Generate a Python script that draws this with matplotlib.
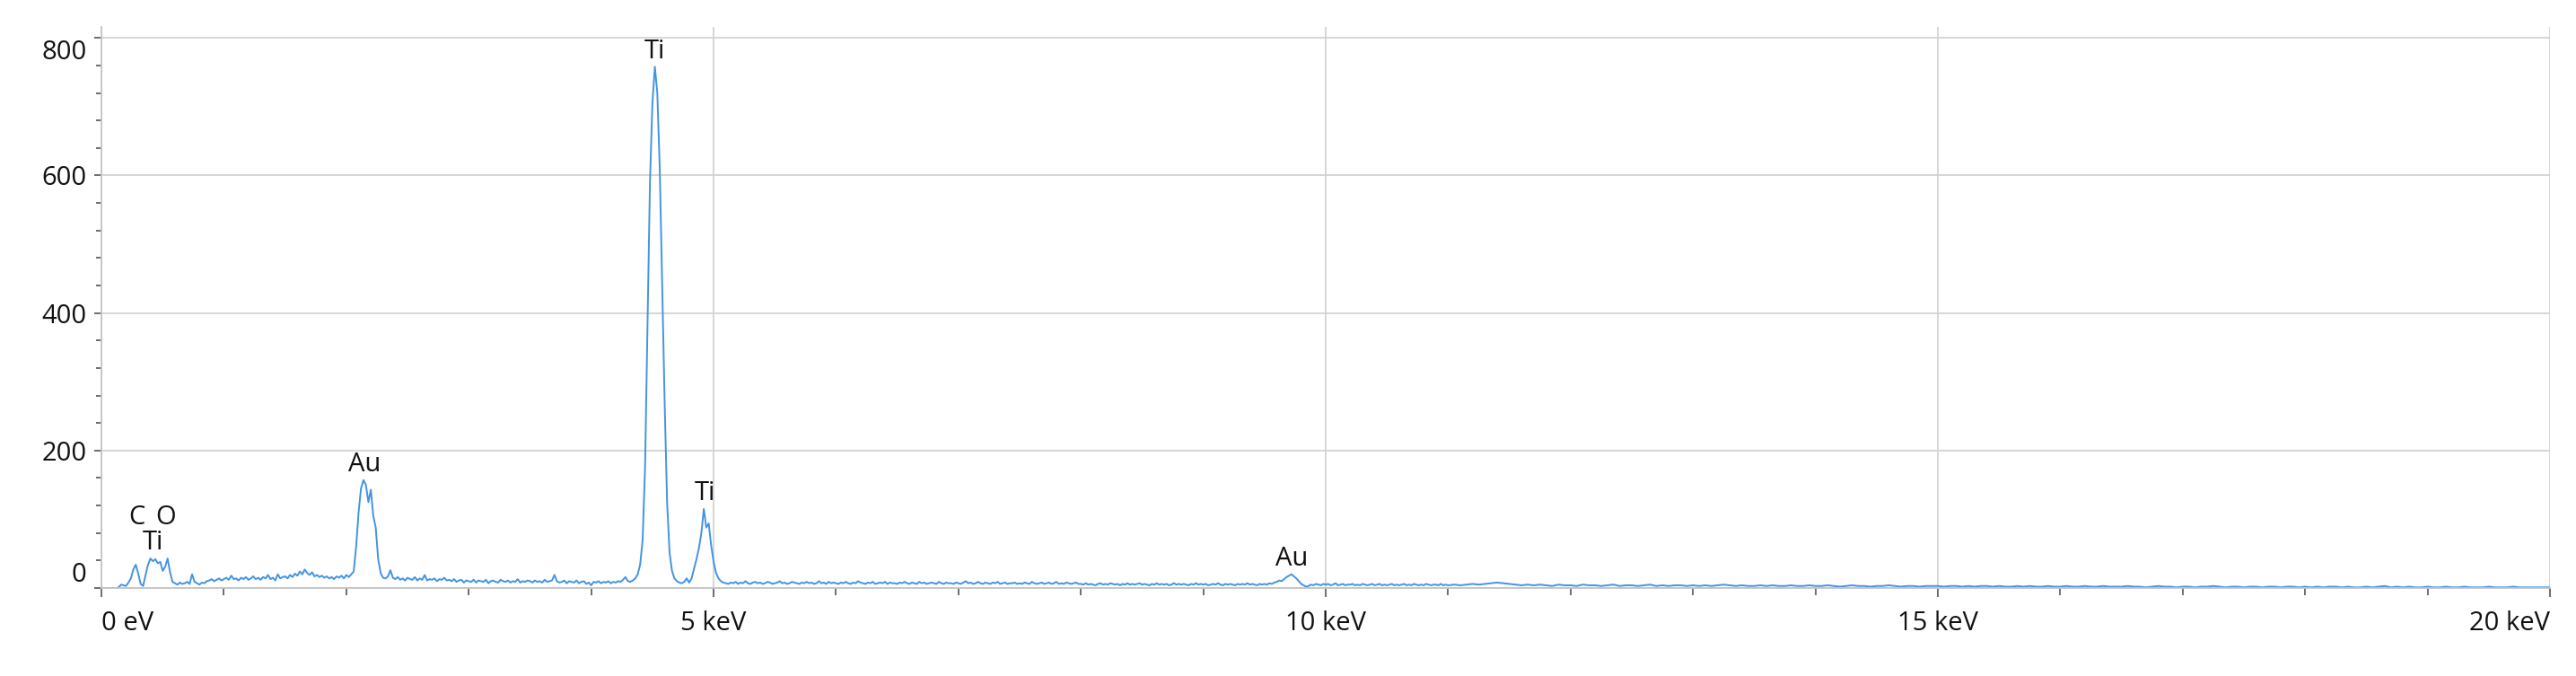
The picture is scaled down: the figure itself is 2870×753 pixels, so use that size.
import matplotlib
matplotlib.use('Agg')

import matplotlib.pyplot as plt
from matplotlib.ticker import MultipleLocator
from matplotlib.transforms import ScaledTranslation
import numpy as np

plt.rcParams['font.family'] = ['Open Sans', 'DejaVu Sans']
FONT_SIZE = 21

# EDS spectrum, 0 - 10.98 keV in 20 eV channels (counts)
lowStart = 0.0
lowStep = 0.02
countsLow = [
    0, 0, 0, 0, 0, 0, 0, 1, 5, 4, 3, 8, 14, 27, 34, 21, 6, 3, 19, 34, 43, 39, 42, 36, 38,
    25, 31, 43, 23, 9, 7, 5, 8, 6, 7, 9, 6, 20, 9, 7, 5, 8, 7, 10, 11, 13, 10, 12, 14, 11,
    13, 15, 12, 18, 13, 14, 11, 15, 13, 16, 12, 14, 17, 13, 15, 12, 16, 14, 19, 13, 15, 11, 20, 14, 16,
    17, 14, 19, 16, 21, 18, 24, 20, 27, 22, 19, 23, 17, 19, 16, 18, 15, 17, 14, 16, 13, 17, 15, 18, 14,
    19, 16, 20, 24, 60, 110, 145, 157, 150, 125, 143, 105, 88, 42, 22, 15, 14, 17, 26, 15, 13, 16, 12, 14, 11,
    15, 13, 12, 16, 11, 14, 12, 19, 11, 13, 12, 14, 10, 13, 12, 15, 11, 12, 10, 13, 9, 11, 12, 8, 11,
    10, 9, 12, 8, 11, 10, 9, 12, 7, 10, 11, 9, 8, 12, 10, 9, 11, 8, 10, 9, 13, 8, 10, 9, 11,
    10, 8, 11, 9, 10, 8, 12, 9, 10, 11, 19, 10, 8, 9, 11, 7, 10, 9, 8, 11, 7, 9, 10, 6, 8,
    4, 9, 8, 10, 7, 9, 8, 10, 7, 9, 8, 10, 9, 12, 16, 10, 9, 11, 14, 20, 34, 70, 175, 380, 590,
    705, 758, 720, 610, 440, 270, 125, 52, 25, 14, 10, 8, 7, 9, 14, 8, 14, 28, 42, 58, 80, 115, 88, 94, 62,
    38, 22, 14, 10, 8, 7, 6, 8, 7, 9, 6, 8, 7, 10, 7, 6, 8, 9, 7, 8, 6, 7, 9, 8, 6,
    7, 8, 10, 7, 8, 6, 7, 9, 8, 7, 6, 8, 7, 9, 7, 8, 6, 7, 10, 7, 8, 6, 9, 7, 8,
    7, 6, 8, 7, 9, 7, 6, 8, 7, 10, 8, 7, 6, 8, 7, 9, 6, 7, 8, 7, 9, 6, 8, 7, 7,
    6, 8, 7, 9, 7, 6, 8, 7, 6, 9, 7, 8, 6, 7, 8, 7, 6, 9, 7, 6, 8, 7, 7, 6, 8,
    7, 6, 8, 10, 7, 8, 6, 7, 9, 7, 6, 8, 7, 6, 8, 7, 9, 6, 7, 8, 6, 7, 7, 8, 6,
    7, 6, 8, 7, 6, 9, 7, 6, 7, 8, 6, 7, 8, 6, 7, 9, 6, 7, 6, 8, 7, 6, 7, 8, 6,
    6, 5, 7, 5, 6, 5, 4, 6, 7, 5, 6, 5, 7, 6, 5, 6, 4, 6, 5, 7, 5, 6, 5, 6, 7,
    5, 6, 5, 4, 6, 5, 7, 5, 6, 5, 6, 4, 5, 7, 5, 6, 5, 6, 5, 4, 6, 5, 7, 5, 6,
    5, 6, 4, 5, 6, 5, 7, 5, 4, 6, 5, 6, 5, 4, 6, 5, 6, 5, 7, 5, 6, 5, 4, 6, 5,
    6, 5, 7, 6, 8, 9, 11, 10, 13, 16, 18, 20, 17, 14, 10, 6, 4, 2, 3, 5, 4, 6, 5, 4, 6,
    5, 6, 4, 5, 7, 4, 5, 6, 4, 5, 5, 6, 4, 5, 4, 6, 5, 4, 5, 6, 4, 5, 6, 4, 5,
    4, 5, 6, 4, 5, 4, 5, 6, 4, 5, 4, 6, 5, 4, 5, 4, 6, 5, 4, 5, 5, 4, 6, 4, 5,
]

# 11 - 20 keV in 50 eV channels
highStart = 11.0
highStep = 0.05
countsHigh = [
    4, 5, 4, 5, 6, 5, 6, 7, 8, 7, 6, 5, 4, 5, 4, 5, 4, 3, 5, 4,
    4, 3, 5, 4, 4, 3, 4, 5, 3, 4, 4, 3, 4, 5, 3, 4, 3, 4, 4, 3,
    4, 3, 4, 3, 4, 5, 4, 3, 4, 3, 3, 4, 3, 4, 3, 3, 4, 3, 3, 4,
    3, 3, 4, 3, 2, 3, 4, 3, 3, 2, 3, 3, 4, 3, 2, 3, 3, 2, 3, 3,
    3, 2, 3, 3, 2, 3, 2, 3, 3, 2, 3, 2, 2, 3, 2, 3, 2, 2, 3, 2,
    2, 3, 2, 2, 3, 2, 2, 3, 2, 2, 2, 3, 2, 2, 1, 2, 3, 2, 2, 1,
    2, 2, 1, 2, 2, 3, 2, 1, 2, 2, 1, 2, 2, 1, 2, 2, 1, 2, 2, 1,
    2, 1, 2, 1, 2, 2, 1, 2, 1, 1, 2, 1, 2, 3, 1, 2, 1, 2, 1, 1,
    2, 1, 1, 2, 1, 1, 2, 1, 1, 1, 2, 1, 1, 1, 2, 1, 1, 1, 1, 1,
    1,
]

peakLabels = ['C', 'O', 'Ti', 'Au', 'Ti', 'Ti', 'Au']
peakEnergies = [0.285, 0.527, 0.42, 2.15, 4.52, 4.93, 9.72]
labelRows = [1, 1, 0, 0, 0, 0, 0]

xTicks = [0, 5, 10, 15, 20]
xTickLabels = ['0 eV', '5 keV', '10 keV', '15 keV', '20 keV']
yTicks = [0, 200, 400, 600, 800]

energy = np.concatenate([lowStart + lowStep * np.arange(len(countsLow)),
                         highStart + highStep * np.arange(len(countsHigh))])
counts = np.array(countsLow + countsHigh, dtype=float)

fig = plt.figure(figsize=(28.70, 7.53), dpi=100)
ax = fig.add_axes([0.0394, 0.1301, 0.9505, 0.8301])

ax.plot(energy, counts, color='#4294e4', linewidth=1.4)

for label, e, row in zip(peakLabels, peakEnergies, labelRows):
    top = counts[np.abs(energy - e) <= 0.12].max()
    base = 8 if row else 7
    ax.annotate(label, (e, top), xytext=(0, base + row * 19.5), textcoords='offset points',
                ha='center', va='baseline', fontsize=FONT_SIZE, color='#111111',
                annotation_clip=False)

ax.set_xlim(0, 20)
ax.set_ylim(0, 816)

ax.set_xticks(xTicks)
ax.set_xticklabels(xTickLabels)
ax.xaxis.set_minor_locator(MultipleLocator(1))
ax.set_yticks(yTicks)
ax.yaxis.set_minor_locator(MultipleLocator(40))

ax.grid(True, which='major', color='#d3d3d3', linewidth=1.3)
ax.set_axisbelow(True)

for side in ['top', 'right']:
    ax.spines[side].set_visible(False)
for side in ['left', 'bottom']:
    ax.spines[side].set_color('#c4c4c4')
    ax.spines[side].set_linewidth(1.3)

ax.tick_params(axis='both', which='both', colors='#555555', labelcolor='#111111',
               labelsize=FONT_SIZE, width=1.2)
ax.tick_params(axis='x', which='major', length=7, pad=11)
ax.tick_params(axis='x', which='minor', length=6)
ax.tick_params(axis='y', which='major', length=6, pad=6)
ax.tick_params(axis='y', which='minor', length=4)

xLabels = ax.get_xticklabels()
xLabels[0].set_horizontalalignment('left')
xLabels[-1].set_horizontalalignment('right')

yLabels = ax.get_yticklabels()
yLabels[0].set_transform(yLabels[0].get_transform() + ScaledTranslation(0, 13 / 72, fig.dpi_scale_trans))
yLabels[-1].set_transform(yLabels[-1].get_transform() + ScaledTranslation(0, -9 / 72, fig.dpi_scale_trans))

fig.savefig('out.png', dpi=100, facecolor='white')
